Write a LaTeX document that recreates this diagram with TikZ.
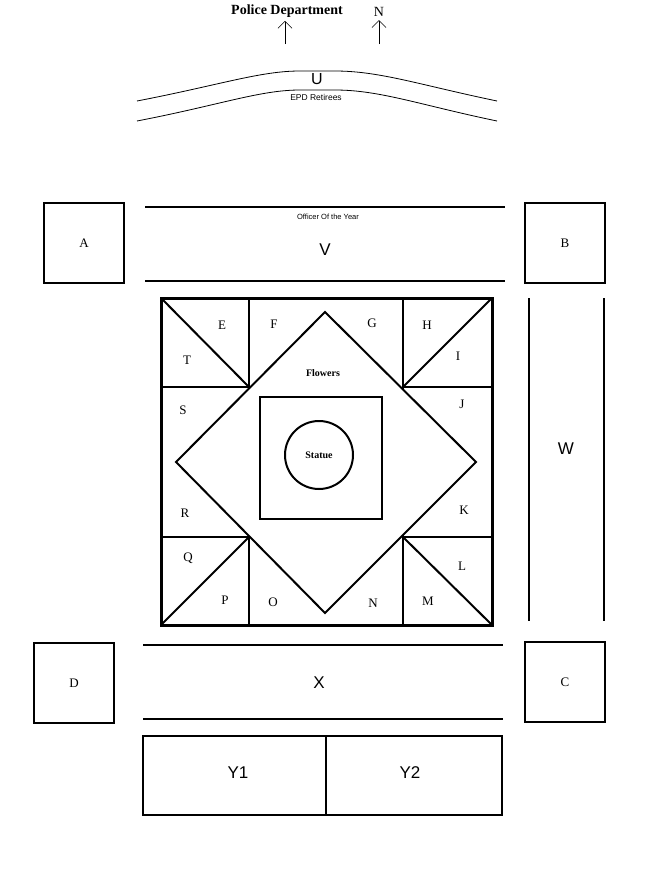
\documentclass[tikz,border=0pt]{standalone}
\usepackage{fontspec}
\setmainfont{Liberation Serif}
\setsansfont{Liberation Sans}
\usetikzlibrary{arrows.meta,positioning}
\begin{document}
\begin{tikzpicture}[x=1pt,y=-1pt,
    corner/.style={draw, line width=2pt, minimum width=80pt, minimum height=80pt, inner sep=0pt, font={\fontsize{13}{15}\selectfont}},
    plot/.style={font={\fontsize{13}{15}\selectfont}},
    road/.style={font={\sffamily\fontsize{17}{19}\selectfont}},
    edge/.style={line width=2pt},
    heavy/.style={line width=3pt},
    pointer/.style={-{Straight Barb[length=7pt,width=14pt]}, line width=0.6pt}
  ]
  \useasboundingbox (0,0) rectangle (650,894);

  % header
  \node[font={\bfseries\fontsize{14}{16}\selectfont}] (pd) at (287,11) {Police Department};
  \node[font={\fontsize{14}{16}\selectfont}] (north) at (379,12) {N};
  \coordinate (pdtail) at (285,44);
  \coordinate (ntail) at (379,44);
  \draw[pointer] (pdtail) -- (pd.south -| pdtail);
  \draw[pointer] (ntail) -- (north.south -| ntail);

  % road U
  \draw[line width=0.8pt] (137,101) .. controls (220,85) and (260,71) .. (300,71)
    -- (335,71) .. controls (380,71) and (420,85) .. (497,101);
  \draw[line width=0.8pt] (137,121) .. controls (220,105) and (260,90) .. (300,90)
    -- (335,90) .. controls (380,90) and (420,105) .. (497,121);
  \node[font={\sffamily\fontsize{16}{18}\selectfont}] (u) at (317,79) {U};
  \node[font={\sffamily\fontsize{8.5}{10}\selectfont}] (epd) at (316,97) {EPD Retirees};

  % corner plots
  \node[corner] (A) at (84,243) {A};
  \node[corner] (B) at (565,243) {B};
  \node[corner] (C) at (565,682) {C};
  \node[corner] (D) at (74,683) {D};

  % roads V, W, X
  \draw[edge] (145,207) -- (505,207);
  \draw[edge] (145,281) -- (505,281);
  \node[font={\sffamily\fontsize{7.5}{9}\selectfont}] (oty) at (328,217) {Officer Of the Year};
  \node[road] (V) at (325,250) {V};
  \draw[edge] (529,298) -- (529,621);
  \draw[edge] (604,298) -- (604,621);
  \node[road] (W) at (566,449) {W};
  \draw[edge] (143,645) -- (503,645);
  \draw[edge] (143,719) -- (503,719);
  \node[road] (X) at (319,683) {X};

  % Y1, Y2
  \draw[edge] (143,736) rectangle (502,815);
  \draw[edge] (326,736) -- (326,815);
  \node[road] (Y1) at (238,773) {Y1};
  \node[road] (Y2) at (410,773) {Y2};

  % square
  \draw[heavy] (161,298) rectangle (492,625);
  \draw[edge] (249,298) -- (249,625);
  \draw[edge] (403,298) -- (403,625);
  \draw[edge] (161,387) -- (249,387);
  \draw[edge] (403,387) -- (492,387);
  \draw[edge] (161,537) -- (249,537);
  \draw[edge] (403,537) -- (492,537);
  \draw[edge] (161,298) -- (249,387);
  \draw[edge] (492,298) -- (403,387);
  \draw[edge] (161,625) -- (249,537);
  \draw[edge] (492,625) -- (403,537);
  \draw[edge, fill=white] (325,312) -- (476,462) -- (325,613) -- (176,462) -- cycle;
  \draw[edge] (260,397) rectangle (382,519);
  \node[draw, circle, line width=2pt, minimum size=68pt, font={\bfseries\fontsize{10}{12}\selectfont}] (statue) at (319,455) {Statue};
  \node[font={\bfseries\fontsize{10}{12}\selectfont}] (flowers) at (323,373) {Flowers};

  \foreach \name/\x/\y in {E/222/325, F/274/324, G/372/323, H/427/325, I/458/356,
      T/187/360, S/183/410, J/462/404, R/185/513, K/464/510,
      Q/188/558, L/462/566, P/225/600, O/273/602, N/373/603, M/428/601}
    \node[plot] (\name) at (\x,\y) {\name};
\end{tikzpicture}
\end{document}
